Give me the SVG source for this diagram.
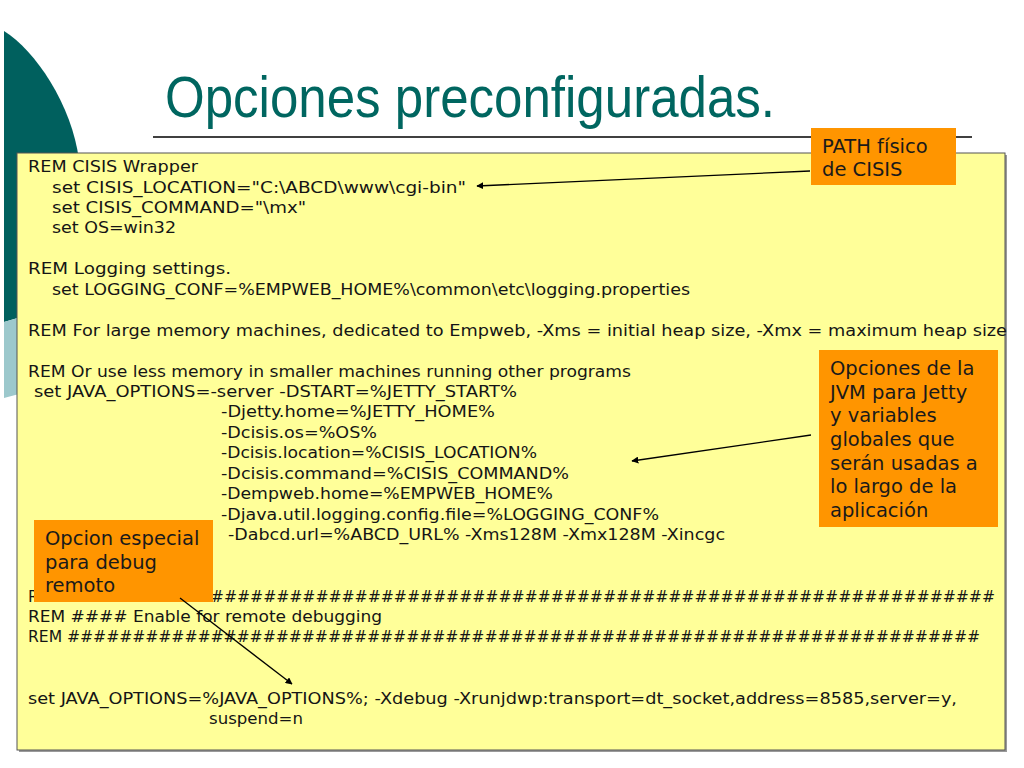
<svg xmlns="http://www.w3.org/2000/svg" width="1024" height="768" viewBox="0 0 1024 768">
<style>
.code{font-family:"DejaVu Sans",Verdana,sans-serif;font-size:16px;fill:#151515}
.call{font-family:"DejaVu Sans",Verdana,sans-serif;font-size:19.5px;fill:#1a1a1a}
.cbox{fill:#FF9500}
.conn{stroke:#000;stroke-width:1.3;fill:none;marker-end:url(#ah)}
</style>
<defs>
<marker id="ah" viewBox="0 0 10 10" refX="9" refY="5" markerWidth="7" markerHeight="7" markerUnits="userSpaceOnUse" orient="auto">
<path d="M0,0 L10,5 L0,10 Z" fill="#000"/>
</marker>
</defs>
<rect width="1024" height="768" fill="#fff"/>
<g id="decor">
<path d="M4,31 C35,50 72,105 79,160 L79,300 L4,322 Z" fill="#00605E"/>
<path d="M4,322 L79,300 L79,378 L4,398 Z" fill="#9CC8CC"/>
</g>
<g id="title">
<text x="165" y="117" font-family="'Liberation Sans',Arial,sans-serif" font-size="57" fill="#006660" textLength="610" lengthAdjust="spacingAndGlyphs">Opciones preconfiguradas.</text>
<line x1="153" y1="137" x2="972" y2="137" stroke="#000" stroke-width="1.5"/>
</g>
<g id="codebox">
<rect x="19" y="155" width="988" height="597" fill="#9a9a9a"/>
<rect x="17" y="153" width="988" height="597" fill="#FFFF99" stroke="#555" stroke-width="1"/>
<g class="code" xml:space="preserve">
<text x="28" y="172" textLength="170" lengthAdjust="spacingAndGlyphs">REM CISIS Wrapper</text>
<text x="52" y="192.5" textLength="414" lengthAdjust="spacingAndGlyphs">set CISIS_LOCATION="C:\ABCD\www\cgi-bin"</text>
<text x="52" y="213" textLength="254" lengthAdjust="spacingAndGlyphs">set CISIS_COMMAND="\mx"</text>
<text x="52" y="233.4" textLength="124" lengthAdjust="spacingAndGlyphs">set OS=win32</text>
<text x="28" y="274.3" textLength="203" lengthAdjust="spacingAndGlyphs">REM Logging settings.</text>
<text x="52" y="294.7" textLength="638" lengthAdjust="spacingAndGlyphs">set LOGGING_CONF=%EMPWEB_HOME%\common\etc\logging.properties</text>
<text x="28" y="335.6" textLength="979" lengthAdjust="spacingAndGlyphs">REM For large memory machines, dedicated to Empweb, -Xms = initial heap size, -Xmx = maximum heap size</text>
<text x="28" y="376.5" textLength="603" lengthAdjust="spacingAndGlyphs">REM Or use less memory in smaller machines running other programs</text>
<text x="34" y="397" textLength="483" lengthAdjust="spacingAndGlyphs">set JAVA_OPTIONS=-server -DSTART=%JETTY_START%</text>
<text x="221" y="417.4" textLength="274" lengthAdjust="spacingAndGlyphs">-Djetty.home=%JETTY_HOME%</text>
<text x="221" y="437.9" textLength="156" lengthAdjust="spacingAndGlyphs">-Dcisis.os=%OS%</text>
<text x="221" y="458.3" textLength="316" lengthAdjust="spacingAndGlyphs">-Dcisis.location=%CISIS_LOCATION%</text>
<text x="221" y="478.8" textLength="348" lengthAdjust="spacingAndGlyphs">-Dcisis.command=%CISIS_COMMAND%</text>
<text x="221" y="499.2" textLength="332" lengthAdjust="spacingAndGlyphs">-Dempweb.home=%EMPWEB_HOME%</text>
<text x="221" y="519.7" textLength="438" lengthAdjust="spacingAndGlyphs">-Djava.util.logging.config.file=%LOGGING_CONF%</text>
<text x="228" y="540.1" textLength="497" lengthAdjust="spacingAndGlyphs">-Dabcd.url=%ABCD_URL% -Xms128M -Xmx128M -Xincgc</text>
<text x="28" y="601.5" textLength="967" lengthAdjust="spacingAndGlyphs">REM #######################################################################</text>
<text x="28" y="621.9" textLength="354" lengthAdjust="spacingAndGlyphs">REM #### Enable for remote debugging</text>
<text x="28" y="642.4" textLength="952" lengthAdjust="spacingAndGlyphs">REM ######################################################################</text>
<text x="28" y="703.7" textLength="929" lengthAdjust="spacingAndGlyphs">set JAVA_OPTIONS=%JAVA_OPTIONS%; -Xdebug -Xrunjdwp:transport=dt_socket,address=8585,server=y,</text>
<text x="209" y="724.2" textLength="94" lengthAdjust="spacingAndGlyphs">suspend=n</text>
</g>
</g>
<g id="callout-path">
<rect class="cbox" x="811" y="128" width="145" height="57"/>
<text class="call" x="822" y="152.5">PATH físico</text>
<text class="call" x="822" y="176">de CISIS</text>
</g>
<g id="callout-jvm">
<rect class="cbox" x="819" y="350" width="179" height="177"/>
<text class="call" x="830" y="375">Opciones de la</text>
<text class="call" x="830" y="398.7">JVM para Jetty</text>
<text class="call" x="830" y="422.3">y variables</text>
<text class="call" x="830" y="446">globales que</text>
<text class="call" x="830" y="469.7">serán usadas a</text>
<text class="call" x="830" y="493.3">lo largo de la</text>
<text class="call" x="830" y="517">aplicación</text>
</g>
<g id="callout-debug">
<rect class="cbox" x="34" y="520" width="179" height="82"/>
<text class="call" x="45" y="545">Opcion especial</text>
<text class="call" x="45" y="568.5">para debug</text>
<text class="call" x="45" y="592">remoto</text>
</g>
<g id="connectors">
<line class="conn" x1="810" y1="171" x2="477" y2="186"/>
<line class="conn" x1="811" y1="435" x2="632" y2="461"/>
<line class="conn" x1="180" y1="598" x2="292" y2="684"/>
</g>
</svg>
